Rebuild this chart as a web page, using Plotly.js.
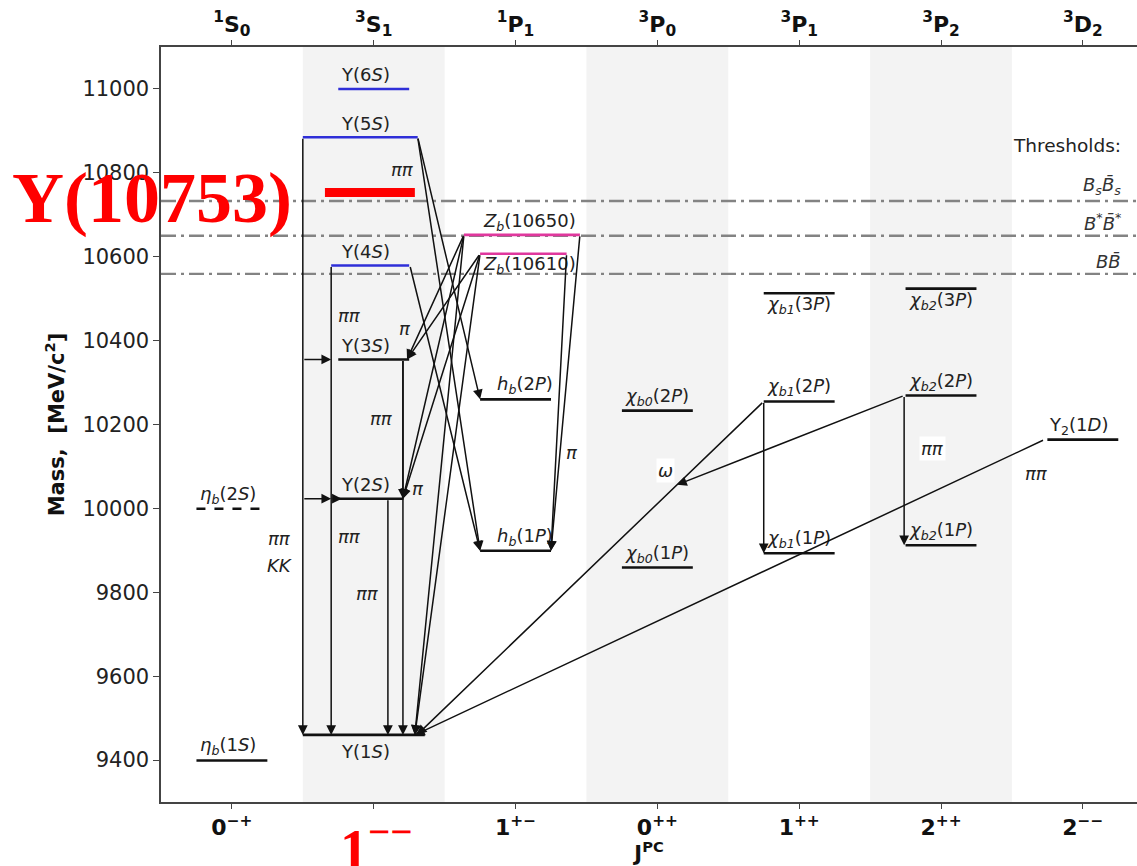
<!DOCTYPE html>
<html><head><meta charset="utf-8">
<script src="https://cdn.plot.ly/plotly-3.0.1.min.js"></script>
<style>html,body{margin:0;padding:0;background:#fff}#chart{width:1137px;height:866px}</style>
</head><body><div id="chart"></div>
<script>
// ---------- data ----------
const jpcLabels = ['0<sup>−+</sup>', '1<sup>−−</sup>', '1<sup>+−</sup>', '0<sup>++</sup>', '1<sup>++</sup>', '2<sup>++</sup>', '2<sup>−−</sup>'];
const termLabels = ['<sup>1</sup>S<sub>0</sub>', '<sup>3</sup>S<sub>1</sub>', '<sup>1</sup>P<sub>1</sub>', '<sup>3</sup>P<sub>0</sub>', '<sup>3</sup>P<sub>1</sub>', '<sup>3</sup>P<sub>2</sub>', '<sup>3</sup>D<sub>2</sub>'];
const massTicks = [9400, 9600, 9800, 10000, 10200, 10400, 10600, 10800, 11000];
const massTickLabels = ['9400', '9600', '9800', '10000', '10200', '10400', '10600', '10800', '11000'];

const stateKeys = ['etab1S', 'etab2S', 'Y1S', 'Y2S', 'Y3S', 'Y4S', 'Y5S', 'Y6S', 'Zb10610', 'Zb10650', 'hb1P', 'hb2P', 'chib0_1P', 'chib0_2P', 'chib1_1P', 'chib1_2P', 'chib1_3P', 'chib2_1P', 'chib2_2P', 'chib2_3P', 'Y2_1D'];
const stateLabels = ['<i>η<sub>b</sub></i>(1<i>S</i>)', '<i>η<sub>b</sub></i>(2<i>S</i>)', 'Υ(1<i>S</i>)', 'Υ(2<i>S</i>)', 'Υ(3<i>S</i>)', 'Υ(4<i>S</i>)', 'Υ(5<i>S</i>)', 'Υ(6<i>S</i>)',
  '<i>Z<sub>b</sub></i>(10610)', '<i>Z<sub>b</sub></i>(10650)', '<i>h<sub>b</sub></i>(1<i>P</i>)', '<i>h<sub>b</sub></i>(2<i>P</i>)',
  '<i>χ<sub>b0</sub></i>(1<i>P</i>)', '<i>χ<sub>b0</sub></i>(2<i>P</i>)', '<i>χ<sub>b1</sub></i>(1<i>P</i>)', '<i>χ<sub>b1</sub></i>(2<i>P</i>)', '<i>χ<sub>b1</sub></i>(3<i>P</i>)',
  '<i>χ<sub>b2</sub></i>(1<i>P</i>)', '<i>χ<sub>b2</sub></i>(2<i>P</i>)', '<i>χ<sub>b2</sub></i>(3<i>P</i>)', 'Υ<sub>2</sub>(1<i>D</i>)'];
const stateJPC = [0, 0, 1, 1, 1, 1, 1, 1, 2, 2, 2, 2, 3, 3, 4, 4, 4, 5, 5, 5, 6];
const stateMass = [9399, 9999, 9460, 10023, 10355, 10579, 10885, 11000, 10607, 10652, 9899, 10260, 9859, 10233, 9893, 10255, 10513, 9912, 10269, 10524, 10164];

const highlightLabel = 'Υ(10753)';
const highlightMass = 10753;
const highlightJPC = 1;

const thresholdLabels = ['<i>B<sub>s</sub>B̄<sub>s</sub></i>', '<i>B<sup>*</sup>B̄<sup>*</sup></i>', '<i>BB̄</i>'];
const thresholdMass = [10733, 10650, 10559];

// transitions: from state -> to state
const trFrom = ['Y5S', 'Y5S', 'Y5S', 'Y4S', 'Y4S', 'Y3S', 'Y3S', 'Y2S', 'Y5S', 'Y5S', 'Y4S',
  'Zb10650', 'Zb10610', 'Zb10650', 'Zb10610', 'Zb10650', 'Zb10610', 'Zb10650', 'Zb10610',
  'chib1_2P', 'chib2_2P', 'Y2_1D', 'chib1_2P', 'chib2_2P'];
const trTo = ['Y1S', 'Y3S', 'Y2S', 'Y1S', 'Y2S', 'Y2S', 'Y1S', 'Y1S', 'hb2P', 'hb1P', 'hb1P',
  'Y3S', 'Y3S', 'Y2S', 'Y2S', 'Y1S', 'Y1S', 'hb1P', 'hb1P',
  'Y1S', 'omega', 'Y1S', 'chib1_1P', 'chib2_1P'];

// process labels
const procText = ['ππ', 'ππ', 'ππ', 'ππ', 'ππ', 'ππ', 'KK', 'π', 'π', 'π', 'ω', 'ππ', 'ππ'];
const procJPC = [1.206, 0.832, 1.058, 0.832, 0.959, 0.339, 0.339, 1.22, 1.31, 2.40, 3.06, 4.94, 5.67];
const procMass = [10807, 10459, 10215, 9932, 9798, 9929, 9865, 10428, 10048, 10134, 10091, 10142, 10084];
const procBoxed = [false, false, false, false, false, false, false, false, false, false, true, true, false];

// ---------- layout helpers (positions / styles) ----------
const idx = k => stateKeys.indexOf(k);
const extentDefault = [-0.25, 0.25];
const extentOverride = {Y1S: [-0.5, 0.36], Y2S: [-0.25, 0.21], Y4S: [-0.3, 0.25], Y5S: [-0.5, 0.31], Zb10650: [-0.364, 0.454], Zb10610: [-0.25, 0.36]};
const colorOverride = {Y4S: '#2f2fd8', Y5S: '#2f2fd8', Y6S: '#2f2fd8', Zb10610: '#e0379d', Zb10650: '#e0379d'};
const labelDx = {Y1S: -0.06, Y2S: -0.06, Y3S: -0.06, Y4S: -0.06, Y5S: -0.06, Y6S: -0.06, etab1S: -0.03, etab2S: -0.03, Zb10610: 0.1, Zb10650: 0.1, hb1P: 0.07, hb2P: 0.07, Y2_1D: -0.03};
const labelDy = {Y1S: -17, chib1_3P: -12, chib2_3P: -12, Zb10610: -11, Zb10650: 13};
const trX = [[0.5, 0.5], [0.5, 0.70], [0.5, 0.70], [0.70, 0.70], [0.70, 0.775], [1.206, 1.206], [1.206, 1.206], [1.10, 1.10],
  [1.31, 1.75], [1.31, 1.75], [1.255, 1.75],
  [1.636, 1.235], [1.75, 1.235], [1.636, 1.206], [1.75, 1.206], [1.636, 1.29], [1.75, 1.29], [2.454, 2.25], [2.36, 2.25],
  [3.75, 1.305], [4.74, null], [5.73, 1.29], [3.75, 3.75], [4.74, 4.74]];
const trHorizontal = [false, true, true, false, true, false, false, false, false, false, false, false, false, false, false, false, false, false, false, false, false, false, false, false];

const FONT = 'DejaVu Sans';
const traces = [];
const annotations = [];
const shapes = [];

[1, 3, 5].forEach(c => shapes.push({type: 'rect', xref: 'x', yref: 'paper', x0: c - 0.5, x1: c + 0.5, y0: 0, y1: 1, fillcolor: '#f3f3f3', line: {width: 0}, layer: 'below'}));
thresholdMass.forEach(m => {
  shapes.push({type: 'line', xref: 'paper', yref: 'y', x0: 0, x1: 1, y0: m, y1: m, line: {color: '#838383', width: 2.4, dash: '15px,5px,3px,5px'}, layer: 'below'});
});
const thrLabelMass = [10769, 10683, 10588];
thresholdLabels.forEach((t, i) => annotations.push({xref: 'x', yref: 'y', x: 6.285, y: thrLabelMass[i], xanchor: 'right', yanchor: 'middle', showarrow: false, text: t, font: {family: FONT, size: 18, color: '#333'}}));
annotations.push({xref: 'x', yref: 'y', x: 6.285, y: 10866, xanchor: 'right', yanchor: 'middle', showarrow: false, text: 'Thresholds:', font: {family: FONT, size: 18.5, color: '#222'}});

stateKeys.forEach((k, i) => {
  const ext = extentOverride[k] || extentDefault;
  const c = stateJPC[i];
  traces.push({x: [c + ext[0], c + ext[1]], y: [stateMass[i], stateMass[i]], mode: 'lines', hoverinfo: 'skip', showlegend: false,
    line: {color: colorOverride[k] || '#111', width: 2.6, dash: k === 'etab2S' ? 'dash' : 'solid'}});
  annotations.push({xref: 'x', yref: 'y', x: c + (labelDx[k] || 0), y: stateMass[i], yshift: (labelDy[k] !== undefined ? labelDy[k] : 14), xanchor: 'center', yanchor: 'middle',
    showarrow: false, text: stateLabels[i], font: {family: FONT, size: 18, color: '#222'}});
});
traces.push({x: [highlightJPC - 0.344, highlightJPC + 0.29], y: [highlightMass, highlightMass], mode: 'lines', hoverinfo: 'skip', showlegend: false, line: {color: '#ff0000', width: 9}});
annotations.push({xref: 'paper', yref: 'y', x: -0.0092, y: highlightMass - 12, xanchor: 'center', yanchor: 'middle', showarrow: false,
  text: '<b>' + highlightLabel + '</b>', font: {family: 'Liberation Serif', size: 72, color: '#ff0000'}});
annotations.push({xref: 'x', yref: 'paper', x: highlightJPC + 0.02, y: -0.058, xanchor: 'center', yanchor: 'middle', showarrow: false,
  text: '<b>1<sup>−−</sup></b>', font: {family: 'Liberation Serif', size: 56, color: '#ff0000'}});

trFrom.forEach((f, i) => {
  const fm = stateMass[idx(f)];
  let x0 = trX[i][0], x1 = trX[i][1], y0 = fm, y1;
  if (trTo[i] === 'omega') {
    const j = 19;
    const a0 = trX[j][0], a1 = trX[j][1], b0 = stateMass[idx(trFrom[j])], b1 = stateMass[idx(trTo[j])];
    x1 = a0 + 0.25 * (a1 - a0); y1 = b0 + 0.25 * (b1 - b0);
  } else {
    y1 = stateMass[idx(trTo[i])];
  }
  if (trHorizontal[i]) y0 = y1;
  annotations.push({xref: 'x', yref: 'y', axref: 'x', ayref: 'y', x: x1, y: y1, ax: x0, ay: y0, text: '', showarrow: true,
    arrowhead: 2, arrowsize: 1.3, arrowwidth: 1.5, arrowcolor: '#111', standoff: 0});
});

procText.forEach((t, i) => annotations.push({xref: 'x', yref: 'y', x: procJPC[i], y: procMass[i], showarrow: false, text: '<i>' + t + '</i>',
  xanchor: 'center', yanchor: 'middle', font: {family: FONT, size: 18, color: '#222'}, bgcolor: procBoxed[i] ? '#ffffff' : 'rgba(0,0,0,0)', borderpad: 1}));

traces.push({x: [0], y: [9300], xaxis: 'x2', mode: 'markers', marker: {opacity: 0}, hoverinfo: 'skip', showlegend: false});

const xr = [-0.5, 6.382];
const layout = {
  width: 1137, height: 866,
  margin: {l: 161, r: 0, t: 47, b: 64},
  paper_bgcolor: '#ffffff', plot_bgcolor: '#ffffff',
  showlegend: false,
  xaxis: {range: xr, tickvals: [0, 1, 2, 3, 4, 5, 6], ticktext: jpcLabels.map((t, i) => i === 1 ? '' : '<b>' + t + '</b>'),
    showgrid: false, zeroline: false, showline: true, linecolor: '#444', linewidth: 1.6, ticks: 'outside', ticklen: 5, tickcolor: '#444',
    tickfont: {family: FONT, size: 22, color: '#111'}, title: {text: '<b>J<sup>PC</sup></b>', font: {family: FONT, size: 21, color: '#111'}, standoff: 4}},
  xaxis2: {range: xr, overlaying: 'x', side: 'top', tickvals: [0, 1, 2, 3, 4, 5, 6], ticktext: termLabels.map(t => '<b>' + t + '</b>'),
    showgrid: false, zeroline: false, showline: true, linecolor: '#444', linewidth: 1.6, ticks: 'outside', ticklen: 5, tickcolor: '#444',
    tickfont: {family: FONT, size: 22, color: '#111'}},
  yaxis: {range: [9300, 11100], tickvals: massTicks, ticktext: massTickLabels, showgrid: false, zeroline: false, showline: true, linecolor: '#444', linewidth: 1.6,
    ticks: 'outside', ticklen: 6, tickcolor: '#444', tickfont: {family: FONT, size: 21, color: '#222'},
    title: {text: '<b>Mass,  [MeV/c<sup>2</sup>]</b>', font: {family: FONT, size: 21, color: '#111'}, standoff: 12}},
  shapes: shapes,
  annotations: annotations
};
Plotly.newPlot('chart', traces, layout, {displayModeBar: false, staticPlot: true});
</script></body></html>
